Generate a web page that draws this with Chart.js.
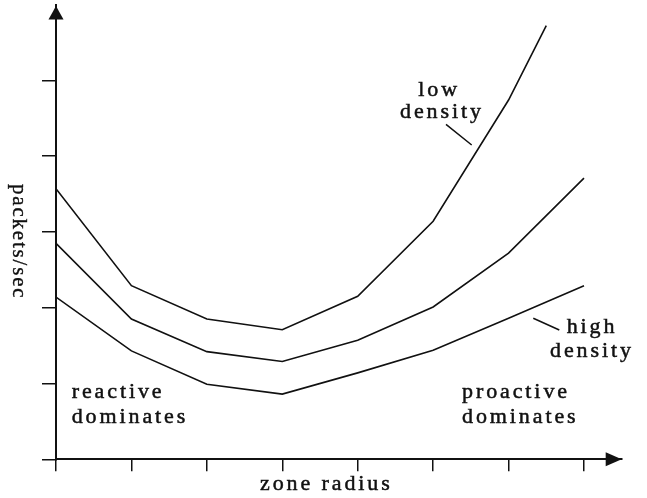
<!DOCTYPE html>
<html>
<head>
<meta charset="utf-8">
<script src="https://cdn.jsdelivr.net/npm/chart.js@4"></script>
<style>
  html, body { margin: 0; padding: 0; background: #fff; }
  #wrap { width: 647px; height: 498px; position: relative; }
</style>
</head>
<body>
<div id="wrap"><canvas id="c" width="647" height="498"></canvas></div>
<script>
// ---- data ----
const zoneRadius = [0, 1, 2, 3, 4, 5, 6, 7];
const lowDensityX = [0, 1, 2, 3, 4, 5, 6, 6.5];
const lowDensity = [3.57, 2.29, 1.85, 1.71, 2.15, 3.14, 4.74, 5.72];
const midDensity = [2.85, 1.85, 1.42, 1.29, 1.57, 2.01, 2.72, 3.71];
const highDensity = [2.14, 1.43, 0.99, 0.86, 1.14, 1.44, 1.86, 2.29];
const xTickValues = [0, 1, 2, 3, 4, 5, 6, 7];
const yTickValues = [0, 1, 2, 3, 4, 5];
const xAxisTitle = 'zone radius';
const yAxisTitle = 'packets/sec';

const INK = '#111';
const SERIF = '"Liberation Serif", "DejaVu Serif", serif';

function pts(xs, ys) { return xs.map((x, i) => ({ x: x, y: ys[i] })); }

const lineStyle = { borderColor: INK, borderWidth: 1.6, pointRadius: 0, tension: 0, fill: false };

function inkText(ctx, s, x, y) {
  ctx.fillText(s, x, y);
  ctx.strokeText(s, x, y);
}

const decorations = {
  id: 'decorations',
  afterDraw(chart) {
    const ctx = chart.ctx;
    const a = chart.chartArea;
    ctx.save();
    ctx.fillStyle = INK;
    // y axis arrow
    ctx.beginPath();
    ctx.moveTo(a.left, 6);
    ctx.lineTo(a.left - 7.5, 19.5);
    ctx.lineTo(a.left + 7.5, 19.5);
    ctx.closePath();
    ctx.fill();
    // x axis arrow
    ctx.beginPath();
    ctx.moveTo(a.right, a.bottom);
    ctx.lineTo(a.right - 16, a.bottom - 7);
    ctx.lineTo(a.right - 16, a.bottom + 7);
    ctx.closePath();
    ctx.fill();

    // leader lines
    ctx.strokeStyle = INK;
    ctx.lineWidth = 1.5;
    ctx.beginPath();
    ctx.moveTo(446, 124.3); ctx.lineTo(471.7, 145);
    ctx.moveTo(533.3, 318.3); ctx.lineTo(559.3, 330);
    ctx.stroke();

    // texts
    ctx.textAlign = 'left';
    ctx.textBaseline = 'alphabetic';
    ctx.font = '22px ' + SERIF;
    ctx.letterSpacing = '2.9px';
    ctx.lineWidth = 0.5;
    const texts = [
      ['reactive', 71.7, 398.3], ['dominates', 71.7, 423.3],
      ['proactive', 462, 398], ['dominates', 462, 422.7],
      ['low', 418.3, 96], ['density', 400, 118.3],
      ['high', 566.7, 333.3], ['density', 550, 356.7],
      [xAxisTitle, 260, 490]
    ];
    texts.forEach(t => inkText(ctx, t[0], t[1], t[2]));

    // rotated y title
    ctx.font = '21px ' + SERIF;
    ctx.letterSpacing = '1.8px';
    ctx.lineWidth = 0.35;
    ctx.translate(13, 184);
    ctx.rotate(Math.PI / 2);
    inkText(ctx, yAxisTitle, 0, 0);
    ctx.restore();
  }
};

new Chart(document.getElementById('c'), {
  type: 'line',
  data: {
    datasets: [
      Object.assign({ label: 'low density', data: pts(lowDensityX, lowDensity) }, lineStyle),
      Object.assign({ label: 'medium density', data: pts(zoneRadius, midDensity) }, lineStyle),
      Object.assign({ label: 'high density', data: pts(zoneRadius, highDensity) }, lineStyle)
    ]
  },
  options: {
    responsive: false,
    animation: false,
    events: [],
    layout: { padding: { top: 4.5, right: 25.3, bottom: 0, left: 0 } },
    plugins: { legend: { display: false }, tooltip: { enabled: false } },
    scales: {
      x: {
        type: 'linear',
        min: 0, max: 7.5,
        afterBuildTicks(s) { s.ticks = xTickValues.map(v => ({ value: v })); },
        afterFit(s) { s.height = 38.7; },
        ticks: { display: false },
        grid: { drawOnChartArea: false, drawTicks: true, tickLength: 12, color: INK, lineWidth: 1.5 },
        border: { display: true, color: INK, width: 2 }
      },
      y: {
        type: 'linear',
        min: 0, max: 6,
        afterBuildTicks(s) { s.ticks = yTickValues.map(v => ({ value: v })); },
        afterFit(s) { s.width = 56; },
        ticks: { display: false },
        grid: { drawOnChartArea: false, drawTicks: true, tickLength: 14, color: INK, lineWidth: 1.5 },
        border: { display: true, color: INK, width: 2 }
      }
    }
  },
  plugins: [decorations]
});
</script>
</body>
</html>
